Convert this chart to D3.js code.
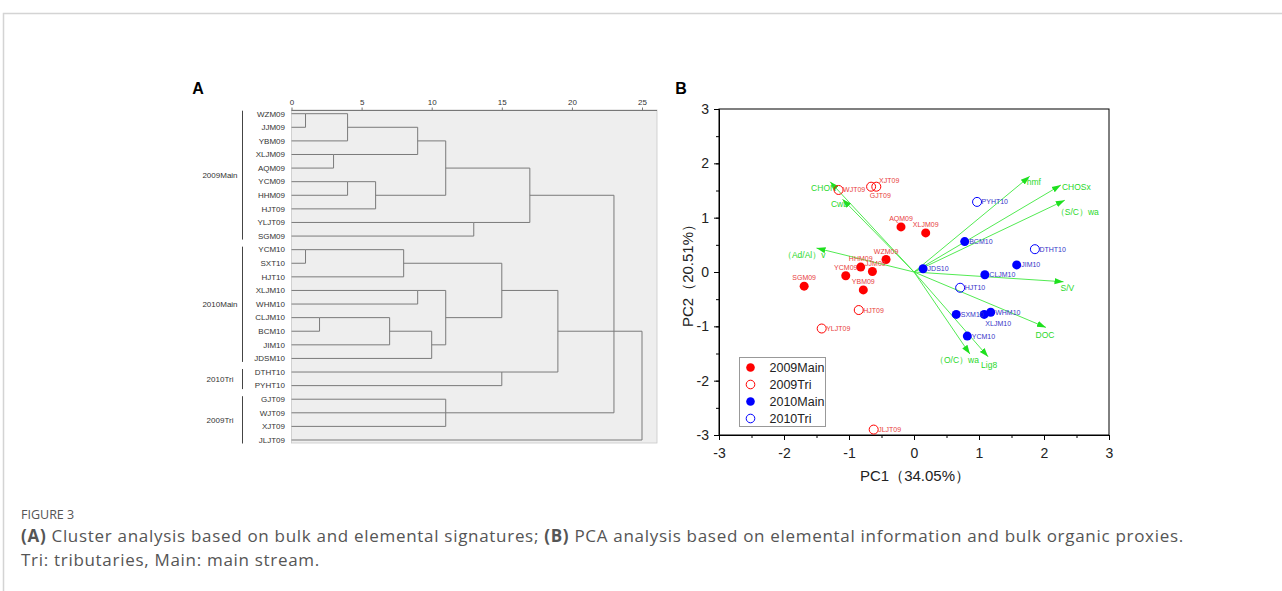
<!DOCTYPE html>
<html><head><meta charset="utf-8">
<script src="https://cdn.jsdelivr.net/npm/d3@7"></script>
<style>body{margin:0;background:#fff}svg{display:block}</style>
</head><body><svg id="c" width="1282" height="591"></svg>
<script>
// ---------- Panel A data (cluster analysis) ----------
const leaves = ["WZM09","JJM09","YBM09","XLJM09","AQM09","YCM09","HHM09","HJT09","YLJT09","SGM09",
  "YCM10","SXT10","HJT10","XLJM10","WHM10","CLJM10","BCM10","JIM10","JDSM10",
  "DTHT10","PYHT10","GJT09","WJT09","XJT09","JLJT09"];
const distanceTicks = [0,5,10,15,20,25];
const merges = [
  {id:"m1",  children:["WZM09","JJM09"], d:1},
  {id:"m2",  children:["m1","YBM09"], d:4},
  {id:"m3",  children:["XLJM09","AQM09"], d:3},
  {id:"m4",  children:["m2","m3"], d:9},
  {id:"m5",  children:["YCM09","HHM09"], d:4},
  {id:"m6",  children:["m5","HJT09"], d:6},
  {id:"m7",  children:["m4","m6"], d:11},
  {id:"m8",  children:["YLJT09","SGM09"], d:13},
  {id:"m9",  children:["m7","m8"], d:17},
  {id:"m10", children:["YCM10","SXT10"], d:1},
  {id:"m11", children:["m10","HJT10"], d:8},
  {id:"m12", children:["XLJM10","WHM10"], d:9},
  {id:"m13", children:["CLJM10","BCM10"], d:2},
  {id:"m14", children:["m13","JIM10"], d:7},
  {id:"m15", children:["m14","JDSM10"], d:10},
  {id:"m16", children:["m12","m15"], d:11},
  {id:"m17", children:["m11","m16"], d:15},
  {id:"m18", children:["DTHT10","PYHT10"], d:15},
  {id:"m19", children:["m17","m18"], d:19},
  {id:"m20", children:["GJT09","WJT09","XJT09"], d:11},
  {id:"m21", children:["m9","m20"], d:23},
  {id:"m22", children:["m19","JLJT09"], d:25}
];
const leafGroups = [
  {name:"2009Main", first:"WZM09", last:"SGM09"},
  {name:"2010Main", first:"YCM10", last:"JDSM10"},
  {name:"2010Tri",  first:"DTHT10", last:"PYHT10"},
  {name:"2009Tri",  first:"GJT09", last:"JLJT09"}
];

// ---------- Panel B data (PCA) ----------
const seriesNames = ["2009Main","2009Tri","2010Main","2010Tri"];
const main09 = [
  {name:"SGM09", pc1:-1.69, pc2:-0.26}, {name:"YCM09", pc1:-1.05, pc2:-0.07},
  {name:"HHM09", pc1:-0.82, pc2:0.09},  {name:"JJM09", pc1:-0.64, pc2:0.01},
  {name:"YBM09", pc1:-0.78, pc2:-0.33}, {name:"WZM09", pc1:-0.43, pc2:0.23},
  {name:"AQM09", pc1:-0.20, pc2:0.83},  {name:"XLJM09", pc1:0.18, pc2:0.72}
];
const tri09 = [
  {name:"WJT09", pc1:-1.16, pc2:1.51}, {name:"XJT09", pc1:-0.66, pc2:1.57},
  {name:"GJT09", pc1:-0.58, pc2:1.57}, {name:"HJT09", pc1:-0.85, pc2:-0.70},
  {name:"YLJT09", pc1:-1.42, pc2:-1.04}, {name:"JLJT09", pc1:-0.62, pc2:-2.90}
];
const main10 = [
  {name:"JDS10", pc1:0.14, pc2:0.06}, {name:"BCM10", pc1:0.78, pc2:0.56},
  {name:"JIM10", pc1:1.58, pc2:0.13}, {name:"CLJM10", pc1:1.09, pc2:-0.05},
  {name:"SXM10", pc1:0.65, pc2:-0.78}, {name:"XLJM10", pc1:1.08, pc2:-0.78},
  {name:"WHM10", pc1:1.18, pc2:-0.74}, {name:"YCM10", pc1:0.82, pc2:-1.18}
];
const tri10 = [
  {name:"PYHT10", pc1:0.97, pc2:1.29}, {name:"DTHT10", pc1:1.86, pc2:0.42},
  {name:"HJT10", pc1:0.71, pc2:-0.29}
];
const loadings = [
  {name:"hmf", pc1:1.78, pc2:1.76}, {name:"CHOSx", pc1:2.26, pc2:1.60},
  {name:"（S/C）wa", pc1:2.32, pc2:1.32}, {name:"S/V", pc1:2.30, pc2:-0.18},
  {name:"DOC", pc1:2.03, pc2:-1.02}, {name:"Lig8", pc1:1.14, pc2:-1.56},
  {name:"（O/C）wa", pc1:0.86, pc2:-1.51}, {name:"CHON", pc1:-1.29, pc2:1.66},
  {name:"Cwb", pc1:-1.10, pc2:1.34}, {name:"（Ad/Al）v", pc1:-1.50, pc2:0.44}
];
const pcTicks = [-3,-2,-1,0,1,2,3];
const pcMinorTicks = d3.range(-3, 3.01, 0.5);

// ---------- drawing ----------
const svg = d3.select("#c");
const FONT = "'Liberation Sans', Arial, sans-serif";
svg.append("rect").attr("width",1282).attr("height",591).attr("fill","#fff");
// page frame
svg.append("path").attr("d","M3.5,591V13.5H1282").attr("fill","none").attr("stroke","#d4d4d4").attr("stroke-width",1.5);

// ===== Panel A =====
const gA = svg.append("g");
const xA = d3.scaleLinear().domain([0,25]).range([291.5,642]);
const yA = d3.scalePoint().domain(leaves).range([113.7,440]);
gA.append("rect").attr("x",xA(0)).attr("y",110).attr("width",657-xA(0)).attr("height",333)
  .attr("fill","#eeeeee").attr("stroke","#c8c8c8").attr("stroke-width",0.8);
const axA = gA.append("g").attr("transform","translate(0,110.5)")
  .call(d3.axisTop(xA).tickValues(distanceTicks).tickSize(3).tickPadding(2.5).tickSizeOuter(0));
axA.select(".domain").attr("stroke","#777").attr("d",`M${xA(0)},0H657`);
axA.selectAll("line").attr("stroke","#777");
axA.selectAll("text").attr("font-family",FONT).attr("font-size",8).attr("fill","#333");

// rows & dendrogram
const rowOf = {}, dOf = {};
leaves.forEach((l,i)=>{rowOf[l]=i; dOf[l]=0;});
merges.forEach(m=>{
  const rs = m.children.map(c=>rowOf[c]);
  rowOf[m.id] = Math.floor((d3.min(rs)+d3.max(rs))/2);
  dOf[m.id] = m.d;
});
const rowY = r => yA(leaves[r]);
const dendro = gA.append("g").attr("fill","none").attr("stroke","#7a7a7a").attr("stroke-width",1);
merges.forEach(m=>{
  const rs = m.children.map(c=>rowOf[c]);
  dendro.append("line").attr("x1",xA(m.d)).attr("x2",xA(m.d))
    .attr("y1",rowY(d3.min(rs))).attr("y2",rowY(d3.max(rs)));
  m.children.forEach(c=>{
    dendro.append("line").attr("x1",xA(dOf[c])).attr("x2",xA(m.d))
      .attr("y1",rowY(rowOf[c])).attr("y2",rowY(rowOf[c]));
  });
});
gA.append("g").selectAll("text").data(leaves).join("text")
  .attr("x",285).attr("y",d=>yA(d)).attr("dy","0.35em").attr("text-anchor","end")
  .attr("font-family",FONT).attr("font-size",8).attr("fill","#333").text(d=>d);
leafGroups.forEach(g=>{
  const y1 = yA(g.first)-3, y2 = yA(g.last)+3.5;
  gA.append("line").attr("x1",242.5).attr("x2",242.5).attr("y1",y1).attr("y2",y2)
    .attr("stroke","#444").attr("stroke-width",1);
  gA.append("text").attr("x",220).attr("y",(y1+y2)/2).attr("dy","0.35em").attr("text-anchor","middle")
    .attr("font-family",FONT).attr("font-size",8).attr("fill","#333").text(g.name);
});
svg.append("text").attr("x",198).attr("y",94).attr("text-anchor","middle")
  .attr("font-family",FONT).attr("font-weight","bold").attr("font-size",16).text("A");

// ===== Panel B =====
const gB = svg.append("g");
const x = d3.scaleLinear().domain([-3,3]).range([719,1109]);
const y = d3.scaleLinear().domain([-3,3]).range([435,109]);
gB.append("rect").attr("x",x(-3)).attr("y",y(3)).attr("width",x(3)-x(-3)).attr("height",y(-3)-y(3))
  .attr("fill","none").attr("stroke","#000").attr("stroke-width",1);
const fmt = d => String(d);
const axX = gB.append("g").attr("transform",`translate(0,${y(-3)})`)
  .call(d3.axisBottom(x).tickValues(pcTicks).tickFormat(fmt).tickSize(5).tickPadding(8).tickSizeOuter(0));
const axXm = gB.append("g").attr("transform",`translate(0,${y(-3)})`)
  .call(d3.axisBottom(x).tickValues(pcMinorTicks).tickSize(3).tickFormat("").tickSizeOuter(0));
const axY = gB.append("g").attr("transform",`translate(${x(-3)},0)`)
  .call(d3.axisLeft(y).tickValues(pcTicks).tickFormat(fmt).tickSize(5).tickPadding(5).tickSizeOuter(0));
const axYm = gB.append("g").attr("transform",`translate(${x(-3)},0)`)
  .call(d3.axisLeft(y).tickValues(pcMinorTicks).tickSize(3).tickFormat("").tickSizeOuter(0));
[axX,axXm,axY,axYm].forEach(a=>{
  a.select(".domain").attr("stroke","#000");
  a.selectAll("line").attr("stroke","#000");
  a.selectAll("text").attr("font-family",FONT).attr("font-size",14).attr("fill","#222");
});
gB.append("text").attr("x",915).attr("y",481).attr("text-anchor","middle")
  .attr("font-family",FONT).attr("font-size",15).attr("fill","#222").text("PC1（34.05%）");
gB.append("text").attr("transform","translate(693,272) rotate(-90)").attr("text-anchor","middle")
  .attr("font-family",FONT).attr("font-size",15).attr("fill","#222").text("PC2（20.51%）");

// loadings
const GREEN = "#3ee83e";
const defs = svg.append("defs");
defs.append("marker").attr("id","ah").attr("viewBox","0 0 10 10").attr("refX",10).attr("refY",5)
  .attr("markerWidth",9).attr("markerHeight",9).attr("markerUnits","userSpaceOnUse").attr("orient","auto")
  .append("path").attr("d","M0,1.5L10,5L0,8.5z").attr("fill","#1ee01e");
gB.append("g").selectAll("line").data(loadings).join("line")
  .attr("x1",x(0)).attr("y1",y(0)).attr("x2",d=>x(d.pc1)).attr("y2",d=>y(d.pc2))
  .attr("stroke",GREEN).attr("stroke-width",0.9).attr("marker-end","url(#ah)");
const loadLabel = {
  "hmf":{a:"start",dx:-3,dy:9}, "CHOSx":{a:"start",dx:1,dy:5}, "（S/C）wa":{a:"start",dx:-9,dy:15},
  "S/V":{a:"start",dx:-3,dy:9}, "DOC":{a:"middle",dx:-1,dy:11}, "Lig8":{a:"middle",dx:1,dy:11},
  "（O/C）wa":{a:"end",dx:9,dy:9}, "CHON":{a:"end",dx:6,dy:9}, "Cwb":{a:"middle",dx:-3,dy:8},
  "（Ad/Al）v":{a:"end",dx:9,dy:10}
};
gB.append("g").selectAll("text").data(loadings).join("text")
  .attr("x",d=>x(d.pc1)+loadLabel[d.name].dx).attr("y",d=>y(d.pc2)+loadLabel[d.name].dy)
  .attr("text-anchor",d=>loadLabel[d.name].a)
  .attr("font-family",FONT).attr("font-size",8.5).attr("fill","#2ad82a").text(d=>d.name);

// points
const RED="#ff0000", BLUE="#0000ff", RED_T="#e8403c", BLUE_T="#3535c8";
const ptStyle = [
  {data:main09, color:RED, fill:true, tcol:RED_T},
  {data:tri09, color:RED, fill:false, tcol:RED_T},
  {data:main10, color:BLUE, fill:true, tcol:BLUE_T},
  {data:tri10, color:BLUE, fill:false, tcol:BLUE_T}
];
const ptLabel = name => {
  if (name==="JJM09") return {a:"middle",dx:3,dy:-5};
  if (main09.some(d=>d.name===name)) return {a:"middle",dx:0,dy:-6};
  if (name==="XJT09") return {a:"start",dx:8,dy:-4};
  if (name==="GJT09") return {a:"middle",dx:4,dy:11};
  if (name==="XLJM10") return {a:"middle",dx:14,dy:12};
  return {a:"start",dx:4.5,dy:2.5};
};
ptStyle.forEach(s=>{
  const g = gB.append("g");
  g.selectAll("circle").data(s.data).join("circle")
    .attr("cx",d=>x(d.pc1)).attr("cy",d=>y(d.pc2)).attr("r",4.5)
    .attr("fill",s.fill?s.color:"none").attr("stroke",s.color).attr("stroke-width",s.fill?0:1);
  g.selectAll("text").data(s.data).join("text")
    .attr("x",d=>x(d.pc1)+ptLabel(d.name).dx).attr("y",d=>y(d.pc2)+ptLabel(d.name).dy)
    .attr("text-anchor",d=>ptLabel(d.name).a)
    .attr("font-family",FONT).attr("font-size",7).attr("fill",s.tcol).text(d=>d.name);
});

// legend
const lg = gB.append("g").attr("transform","translate(739.5,357.5)");
lg.append("rect").attr("width",86).attr("height",69).attr("fill","#fff").attr("stroke","#999").attr("stroke-width",1);
seriesNames.forEach((n,i)=>{
  const s = ptStyle[i];
  lg.append("circle").attr("cx",11).attr("cy",10+i*17).attr("r",4.3)
    .attr("fill",s.fill?s.color:"none").attr("stroke",s.color).attr("stroke-width",s.fill?0:1);
  lg.append("text").attr("x",30).attr("y",10+i*17).attr("dy","0.36em")
    .attr("font-family",FONT).attr("font-size",12.5).attr("fill","#222").text(n);
});
svg.append("text").attr("x",681).attr("y",94).attr("text-anchor","middle")
  .attr("font-family",FONT).attr("font-weight","bold").attr("font-size",16).text("B");

// caption
const CF = "'Open Sans', 'Noto Sans', sans-serif";
svg.append("text").attr("x",21).attr("y",519).attr("font-family",CF).attr("font-size",12.5)
  .attr("fill","#555").text("FIGURE 3");
const c1 = svg.append("text").attr("x",21).attr("y",542).attr("font-family",CF).attr("font-size",17)
  .attr("letter-spacing",0.7).attr("fill","#555");
c1.append("tspan").attr("font-weight","bold").text("(A)");
c1.append("tspan").text(" Cluster analysis based on bulk and elemental signatures; ");
c1.append("tspan").attr("font-weight","bold").text("(B)");
c1.append("tspan").text(" PCA analysis based on elemental information and bulk organic proxies.");
svg.append("text").attr("x",21).attr("y",566).attr("font-family",CF).attr("font-size",17)
  .attr("letter-spacing",0.7).attr("fill","#555").text("Tri: tributaries, Main: main stream.");
</script></body></html>
